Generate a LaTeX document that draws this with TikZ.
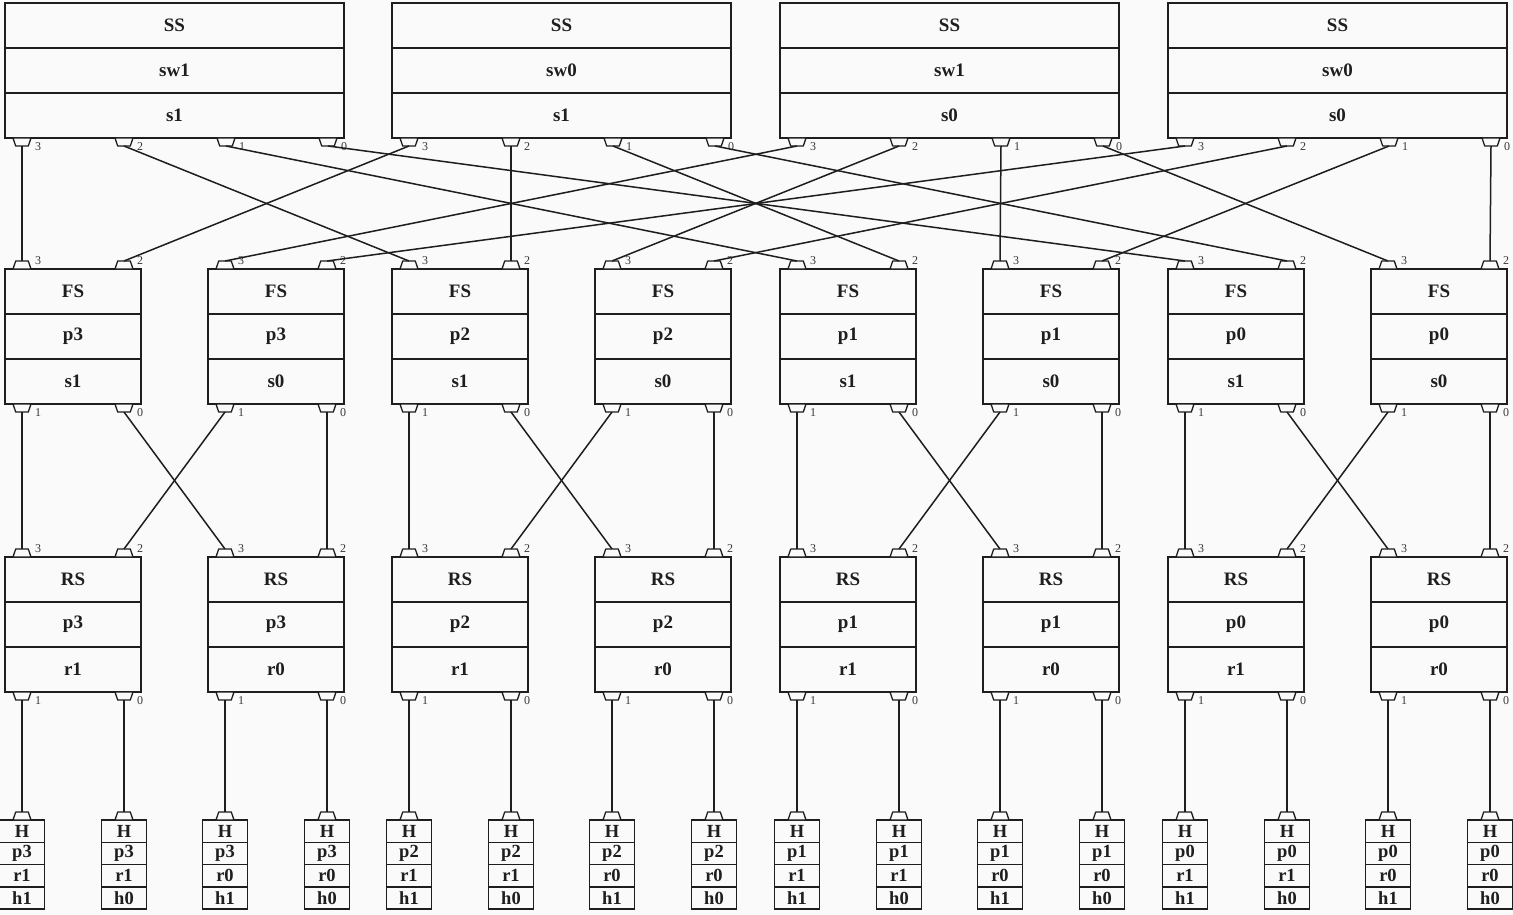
\documentclass[tikz,border=0pt]{standalone}
\usepackage{fontspec}
\setmainfont{Liberation Serif}
\usetikzlibrary{calc}
\definecolor{bg}{RGB}{250,250,250}
\definecolor{ink}{RGB}{30,30,30}
\tikzset{
  box/.style={draw=ink, line width=1.5pt, rectangle, inner sep=0pt, outer sep=0pt, fill=bg},
  sep/.style={draw=ink, line width=1.5pt},
  swtext/.style={font=\bfseries\fontsize{19}{21}\selectfont, inner sep=0pt, text=ink},
  htext/.style={font=\bfseries\fontsize{18.5}{20}\selectfont, inner sep=0pt, text=ink},
  portnode/.style={rectangle, minimum width=18pt, minimum height=8pt, inner sep=0pt, outer sep=0pt},
  portline/.style={draw=ink, fill=bg, line width=1.3pt, line join=round},
  plabel/.style={font=\fontsize{12}{14}\selectfont, text=black!78, inner sep=0pt},
  wire/.style={draw=ink, line width=1.5pt},
}
% name, left, top, width, three labels
\newcommand\swbox[7]{%
  \node[box, minimum width=#4pt, minimum height=135pt, anchor=north west] (#1) at (#2,#3) {};
  \draw[sep] (#2,#3+45) -- (#2+#4,#3+45);
  \draw[sep] (#2,#3+90) -- (#2+#4,#3+90);
  \node[swtext] (#1-a) at (#2+#4/2,#3+22.5) {#5};
  \node[swtext] (#1-b) at (#2+#4/2,#3+67.5) {#6};
  \node[swtext] (#1-c) at (#2+#4/2,#3+112.5) {#7};
}
% port hanging below a box: name, x, y, label
\newcommand\botport[4]{%
  \node[portnode, anchor=north] (#1) at (#2,#3) {};
  \path[portline] (#1.north west) -- (#1.north east) -- ($(#1.south east)+(-2.7pt,0)$)
     -- ($(#1.south west)+(2.7pt,0)$) -- cycle;
  \node[plabel, anchor=west] (#1-lab) at (#2+13,#3+9) {#4};
}
% port standing on top of a box
\newcommand\topportshape[1]{%
  \path[portline] (#1.south west) -- (#1.south east) -- ($(#1.north east)+(-2.7pt,0)$)
     -- ($(#1.north west)+(2.7pt,0)$) -- cycle;
}
\newcommand\topport[4]{%
  \node[portnode, anchor=south] (#1) at (#2,#3) {};
  \topportshape{#1}
  \node[plabel, anchor=west] (#1-lab) at (#2+13,#3-8) {#4};
}
% name, center x, three labels
\newcommand\hostbox[5]{%
  \node[box, minimum width=45pt, minimum height=89pt, anchor=north] (#1) at (#2,820) {};
  \draw[sep] (#2-22.5,842.25) -- (#2+22.5,842.25);
  \draw[sep] (#2-22.5,864.5) -- (#2+22.5,864.5);
  \draw[sep] (#2-22.5,886.75) -- (#2+22.5,886.75);
  \node[htext] (#1-a) at (#2,831.1) {H};
  \node[htext] (#1-b) at (#2,853.4) {#3};
  \node[htext] (#1-c) at (#2,875.6) {#4};
  \node[htext] (#1-d) at (#2,897.9) {#5};
  \node[portnode, anchor=south] (#1-port) at (#2,820) {};
  \topportshape{#1-port}
}
\begin{document}
\begin{tikzpicture}[x=1pt,y=-1pt]
\fill[bg] (0,0) rectangle (1513,915);
\useasboundingbox (0,0) rectangle (1513,915);

% spine switches
\foreach \i/\L/\sw/\s in {0/5/1/1,1/392/0/1,2/780/1/0,3/1168/0/0}{
  \swbox{ss\i}{\L}{3}{339}{SS}{sw\sw}{s\s}
  \foreach \k/\pn in {0/3,1/2,2/1,3/0}{
    \pgfmathsetmacro\px{\L+17+102*\k}
    \botport{ss\i-\pn}{\px}{138}{\pn}
  }
}

% fabric switches
\foreach \L/\p/\s in {5/3/1,208/3/0,392/2/1,595/2/0,780/1/1,983/1/0,1168/0/1,1371/0/0}{
  \swbox{fs-p\p-s\s}{\L}{269}{136}{FS}{p\p}{s\s}
  \topport{fs-p\p-s\s-3}{\L+17}{269}{3}
  \topport{fs-p\p-s\s-2}{\L+119}{269}{2}
  \botport{fs-p\p-s\s-1}{\L+17}{404}{1}
  \botport{fs-p\p-s\s-0}{\L+119}{404}{0}
}

% rack switches and hosts
\foreach \L/\p/\r in {5/3/1,208/3/0,392/2/1,595/2/0,780/1/1,983/1/0,1168/0/1,1371/0/0}{
  \swbox{rs-p\p-r\r}{\L}{557}{136}{RS}{p\p}{r\r}
  \topport{rs-p\p-r\r-3}{\L+17}{557}{3}
  \topport{rs-p\p-r\r-2}{\L+119}{557}{2}
  \botport{rs-p\p-r\r-1}{\L+17}{692}{1}
  \botport{rs-p\p-r\r-0}{\L+119}{692}{0}
  \hostbox{h-p\p-r\r-h1}{\L+17}{p\p}{r\r}{h1}
  \hostbox{h-p\p-r\r-h0}{\L+119}{p\p}{r\r}{h0}
}

% spine -> fabric
\foreach \i/\sw/\s in {0/1/1,1/0/1,2/1/0,3/0/0}{
  \pgfmathtruncatemacro\tp{\sw==1?3:2}
  \foreach \pn in {3,2,1,0}{
    \draw[wire] (ss\i-\pn.south) -- (fs-p\pn-s\s-\tp.north);
  }
}
% fabric -> rack
\foreach \p in {3,2,1,0}{
  \foreach \s in {1,0}{
    \pgfmathtruncatemacro\tp{\s==1?3:2}
    \draw[wire] (fs-p\p-s\s-1.south) -- (rs-p\p-r1-\tp.north);
    \draw[wire] (fs-p\p-s\s-0.south) -- (rs-p\p-r0-\tp.north);
  }
}
% rack -> host
\foreach \p in {3,2,1,0}{
  \foreach \r in {1,0}{
    \draw[wire] (rs-p\p-r\r-1.south) -- (h-p\p-r\r-h1-port.north);
    \draw[wire] (rs-p\p-r\r-0.south) -- (h-p\p-r\r-h0-port.north);
  }
}
\end{tikzpicture}
\end{document}
